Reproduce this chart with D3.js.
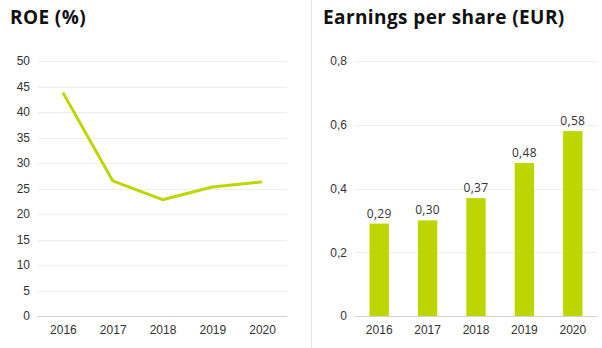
<!DOCTYPE html>
<html>
<head>
<meta charset="utf-8">
<script src="https://cdn.jsdelivr.net/npm/d3@7"></script>
<style>
  body { margin: 0; background: #fff; }
  svg { display: block; }
  .title { font-family: "Open Sans", sans-serif; font-weight: 700; font-size: 19px; letter-spacing: 0.4px; fill: #111; }
  .tick text { font-family: "Liberation Sans", Arial, sans-serif; font-size: 12px; fill: #333; }
  .val { font-family: "Open Sans", sans-serif; font-size: 12px; letter-spacing: 0.3px; fill: #333; }
</style>
</head>
<body>
<div id="chart"></div>
<script>
const years = ['2016', '2017', '2018', '2019', '2020'];
const roeValues = [43.8, 26.5, 22.8, 25.3, 26.3];
const roeTicks = [0, 5, 10, 15, 20, 25, 30, 35, 40, 45, 50];
const epsValues = [0.29, 0.30, 0.37, 0.48, 0.58];
const epsTicks = [0, 0.2, 0.4, 0.6, 0.8];

const green = '#bed600';
const comma = (v, d) => v.toFixed(d).replace('.', ',');

const svg = d3.select('#chart')
    .append('svg')
    .attr('width', 602)
    .attr('height', 348);

// separator between the two panels
svg.append('line')
    .attr('x1', 311.5).attr('x2', 311.5)
    .attr('y1', 0).attr('y2', 348)
    .style('stroke', '#e6e6e6');

const plotTop = 61, plotBottom = 316;

// grid + y axis helper
function drawGrid(g, y, ticks, x0, x1, fmt) {
    const ax = g.append('g')
        .attr('transform', `translate(${x0},0)`)
        .call(d3.axisLeft(y).tickValues(ticks).tickSize(0).tickPadding(8).tickFormat(fmt));
    ax.select('.domain').remove();
    ax.selectAll('.tick line').remove();

    g.selectAll('.grid')
        .data(ticks)
        .join('line')
        .attr('x1', x0).attr('x2', x1)
        .attr('y1', d => Math.round(y(d)) + 0.5)
        .attr('y2', d => Math.round(y(d)) + 0.5)
        .style('stroke', d => d === 0 ? '#d0d0d0' : '#eeeeee');
}

function drawX(g, x) {
    const ax = g.append('g')
        .attr('transform', `translate(0,${plotBottom})`)
        .call(d3.axisBottom(x).tickSize(0).tickPadding(9));
    ax.select('.domain').remove();
}

// ---- ROE panel ----
const left = svg.append('g');
left.append('text').attr('class', 'title').attr('x', 10).attr('y', 24).text('ROE (%)');

const xRoe = d3.scalePoint().domain(years).range([38, 287]).padding(0.5);
const yRoe = d3.scaleLinear().domain([0, 50]).range([plotBottom, plotTop]);

drawGrid(left, yRoe, roeTicks, 38, 287, d => d);
drawX(left, xRoe);

left.append('path')
    .datum(roeValues)
    .attr('d', d3.line().x((d, i) => xRoe(years[i])).y(d => yRoe(d)))
    .style('fill', 'none')
    .style('stroke', green)
    .style('stroke-width', 3)
    .style('stroke-linejoin', 'round');

// ---- EPS panel ----
const right = svg.append('g');
right.append('text').attr('class', 'title').attr('x', 323).attr('y', 24).text('Earnings per share (EUR)');

const xEps = d3.scaleBand().domain(years).range([355, 597]).paddingInner(0.6).paddingOuter(0.3);
const yEps = d3.scaleLinear().domain([0, 0.8]).range([plotBottom, plotTop]);

drawGrid(right, yEps, epsTicks, 355, 597, d => d === 0 ? '0' : comma(d, 1));

right.selectAll('.bar')
    .data(epsValues)
    .join('rect')
    .attr('x', (d, i) => xEps(years[i]))
    .attr('width', xEps.bandwidth())
    .attr('y', d => yEps(d))
    .attr('height', d => plotBottom - yEps(d))
    .style('fill', green);

right.selectAll('.val')
    .data(epsValues)
    .join('text')
    .attr('class', 'val')
    .attr('x', (d, i) => xEps(years[i]) + xEps.bandwidth() / 2)
    .attr('y', d => yEps(d) - 6)
    .attr('text-anchor', 'middle')
    .text(d => comma(d, 2));

drawX(right, xEps);
</script>
</body>
</html>
